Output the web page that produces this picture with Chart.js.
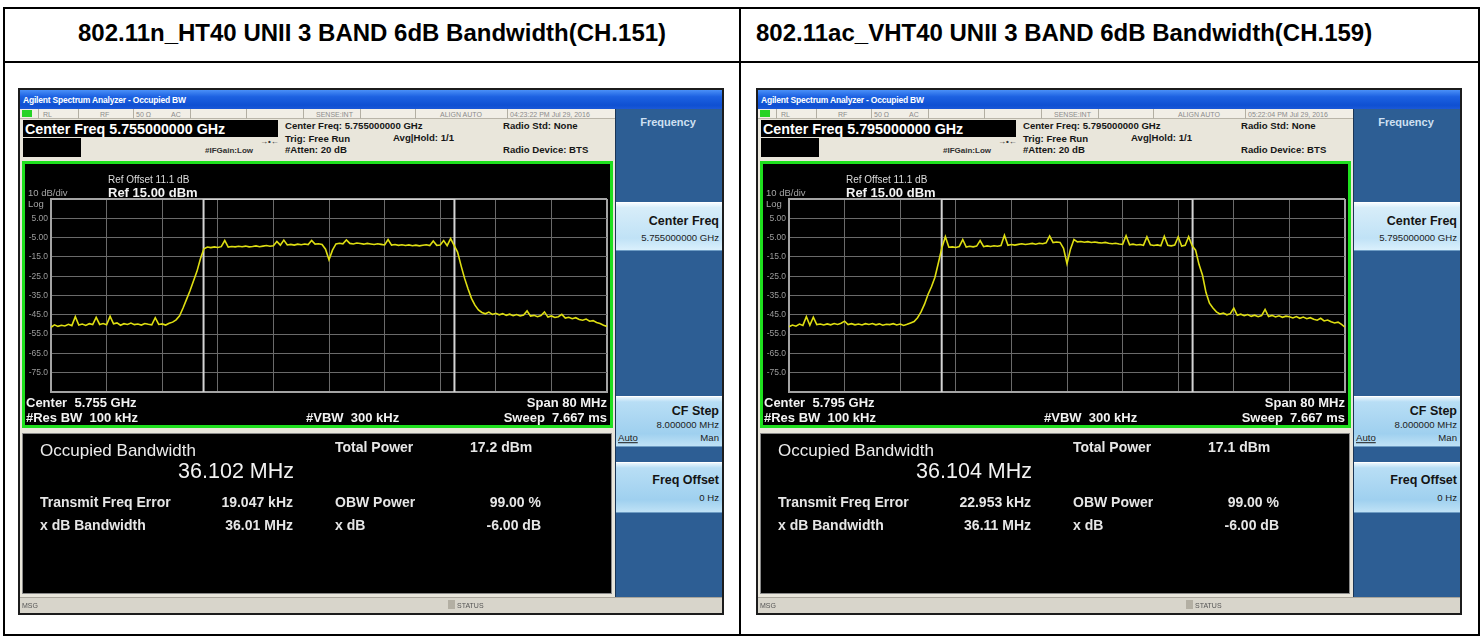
<!DOCTYPE html>
<html>
<head>
<meta charset="utf-8">
<script src="https://cdn.jsdelivr.net/npm/chart.js@4.4.1/dist/chart.umd.min.js"></script>
<style>
html, body { margin: 0; padding: 0; background: #fff; }
body { width: 1483px; height: 639px; position: relative; overflow: hidden; font-family: "Liberation Sans", Arial, sans-serif; }
.ln { position: absolute; background: #000; }
.hdr { position: absolute; top: 33px; transform: translateY(-50%); font-weight: bold; font-size: 24px; white-space: nowrap; color: #000; }
.panel { position: absolute; top: 0; width: 740px; height: 639px; }
.b { position: absolute; box-sizing: border-box; }
.t { position: absolute; white-space: pre; line-height: 1; }
.sa { background: #e9e6db; border: 2px solid #1c1c1c; }
.titlebar { background: linear-gradient(#4a90f8, #1d62e2 35%, #0f50d2 80%, #1a58d8); }
.ttl { color: #fff; font-size: 8.5px; font-weight: bold; letter-spacing: -0.2px; }
.strip { background: #f1eee6; border-bottom: 1px solid #b9b5a9; }
.div { background: #b3afa3; }
.st { color: #8c8c8c; font-size: 7px; }
.lxi { background: #26d326; }
.cfbox { background: #000; }
.cf { color: #fff; font-size: 14.3px; font-weight: bold; }
.inf { color: #161616; font-size: 9.6px; font-weight: bold; }
.ifg { color: #303030; font-size: 8px; font-weight: bold; }
.soft { background: #2d5e94; border-left: 1px solid #1a3555; }
.sk { background: linear-gradient(#f5fbff 0%, #d7edf9 10%, #c0e2f6 75%, #daf0fc 100%); border-top: 1px solid #fff; border-bottom: 1px solid #6d9cc4; }
.sk2 { background: linear-gradient(#eaf6fd 0%, #b8def5 10%, #9fd0ef 75%, #bfe2f6 100%); border-top: 1px solid #fff; border-bottom: 1px solid #6d9cc4; }
.skh { color: #141414; font-size: 12.5px; font-weight: bold; }
.skv { color: #1c1c1c; font-size: 9.6px; }
.freqhdr { color: #cfe0f2; font-size: 11px; font-weight: bold; }
.grat { background: #000; border: 3px solid #1ee01e; }
.gw { color: #f2f2f2; font-size: 13px; font-weight: bold; }
.gs { color: #a6a6a6; font-size: 9.5px; }
.ro { color: #dcdcdc; font-size: 10px; }
.rf { color: #f4f4f4; font-size: 13px; font-weight: bold; }
.res { background: #000; border: 1px solid #8a8a8a; }
.rl { color: #e6e6e6; font-size: 14px; font-weight: bold; }
.occ { color: #ececec; font-size: 17px; }
.big { color: #f2f2f2; font-size: 21.5px; }
.bar { background: #d8d5cb; border-top: 1px solid #a9a59b; }
.msg { color: #555; font-size: 7px; }
canvas { position: absolute; }
</style>
</head>
<body>
<script>
// sweep: 80 MHz span, 0.5 MHz between stored points
const sweepStartMHz = -40;
const sweepStepMHz = 0.5;
const refLevelDbm = 15;
const bottomDbm = -85;
const xGridStepMHz = 8;
const yTickValues = [5, -5, -15, -25, -35, -45, -55, -65, -75];
const yTickLabels = ['5.00', '-5.00', '-15.0', '-25.0', '-35.0', '-45.0', '-55.0', '-65.0', '-75.0'];

// trace level in dBm (rows of 5 MHz)
const traceHT40Ch151 = [
  -51.5, -50.2, -51.0, -50.4, -50.8, -49.9, -50.6, -46.0, -50.3, -49.8,
  -50.5, -49.6, -50.1, -46.3, -50.0, -49.5, -50.2, -45.8, -49.7, -49.2,
  -50.4, -49.6, -50.0, -49.3, -50.1, -49.8, -50.3, -49.5, -49.9, -50.2,
  -46.5, -50.0, -49.7, -50.3, -49.4, -48.8, -47.6, -45.5, -41.5, -37.0,
  -32.5, -27.5, -22.5, -16.0, -10.8, -9.9, -10.2, -9.8, -10.1, -9.7,
  -6.5, -9.9, -9.6, -9.8, -9.5, -9.7, -9.4, -9.8, -9.6, -9.3,
  -9.7, -9.4, -9.1, -9.5, -9.2, -7.0, -8.9, -6.3, -8.8, -8.5,
  -8.9, -8.4, -8.7, -8.3, -8.6, -6.5, -8.4, -8.2, -8.6, -11.0,
  -16.5, -11.5, -8.3, -7.9, -8.2, -6.2, -8.0, -8.3, -7.8, -8.1,
  -8.4, -8.0, -8.3, -8.6, -8.2, -8.5, -8.8, -6.0, -8.9, -8.6,
  -9.0, -8.7, -9.1, -8.8, -9.2, -8.9, -9.3, -9.0, -8.7, -9.1,
  -6.8, -9.0, -8.8, -6.5, -9.2, -5.5, -9.0, -12.5, -19.5, -26.0,
  -31.5, -36.5, -40.0, -42.5, -43.8, -44.5, -43.6, -44.8, -44.2, -45.0,
  -44.4, -45.3, -44.7, -45.5, -44.9, -45.6, -45.1, -43.0, -45.7, -45.3,
  -46.0, -45.4, -43.5, -46.2, -45.6, -46.4, -46.0, -44.8, -46.7, -46.3,
  -47.0, -46.5, -47.4, -47.8, -47.2, -48.3, -48.0, -49.0, -49.5, -50.4,
  -51.0
];
const traceVHT40Ch159 = [
  -51.2, -50.3, -50.9, -49.8, -50.5, -46.0, -50.4, -46.2, -50.1, -49.8,
  -50.3, -49.7, -50.2, -49.5, -50.0, -49.4, -48.3, -50.1, -49.6, -50.2,
  -49.8, -50.3, -49.6, -50.0, -49.5, -50.2, -49.7, -50.4, -49.9, -50.1,
  -49.6, -50.3, -49.8, -50.5, -49.9, -49.2, -48.5, -46.5, -43.5, -39.5,
  -34.5, -30.5, -25.5, -18.0, -10.2, -4.5, -10.0, -9.8, -10.1, -9.6,
  -6.0, -9.9, -9.5, -9.8, -9.4, -6.5, -9.7, -9.3, -9.6, -9.2,
  -9.5, -9.1, -3.8, -9.0, -8.6, -8.9, -8.5, -8.2, -8.6, -8.3,
  -8.0, -8.4, -7.9, -8.2, -7.7, -4.2, -7.6, -7.3, -7.5, -10.5,
  -18.5, -11.0, -6.0, -7.2, -7.0, -7.4, -7.1, -7.5, -7.3, -7.6,
  -7.8, -7.5, -7.9, -8.2, -7.9, -8.3, -8.5, -4.0, -8.7, -8.4,
  -8.8, -8.6, -9.0, -4.6, -8.7, -9.1, -8.8, -9.2, -4.3, -9.0,
  -9.3, -8.9, -4.6, -9.4, -9.0, -4.5, -9.2, -11.5, -19.0, -24.5,
  -33.5, -39.0, -41.5, -43.5, -44.6, -44.1, -45.0, -44.4, -41.5, -45.3,
  -44.7, -45.5, -44.9, -45.8, -45.2, -46.0, -45.4, -42.2, -45.9, -45.3,
  -46.1, -45.5, -46.3, -45.7, -46.0, -46.6, -45.9, -46.8, -46.2, -47.0,
  -46.5, -47.3, -47.8, -46.8, -48.2, -47.7, -48.6, -49.2, -48.8, -50.0,
  -51.4
];
const traces = [traceHT40Ch151, traceVHT40Ch159];
const obwEdgesMHz = [[-18.05, 18.05], [-18.03, 18.07]];

const headerTitles = ['802.11n_HT40 UNII 3 BAND 6dB Bandwidth(CH.151)', '802.11ac_VHT40 UNII 3 BAND 6dB Bandwidth(CH.159)'];
const centerFreqs = ['5.755000000 GHz', '5.795000000 GHz'];
const centerShort = ['5.755 GHz', '5.795 GHz'];
const timeStamps = ['04:23:22 PM Jul 29, 2016', '05:22:04 PM Jul 29, 2016'];
const occupiedBw = ['36.102 MHz', '36.104 MHz'];
const totalPowers = ['17.2 dBm', '17.1 dBm'];
const freqErrors = ['19.047 kHz', '22.953 kHz'];
const xdbBandwidths = ['36.01 MHz', '36.11 MHz'];
const panelOffsets = [0, 738];

function line(x, y, w, h) {
    const d = document.createElement('div');
    d.className = 'ln';
    Object.assign(d.style, { left: x + 'px', top: y + 'px', width: w + 'px', height: h + 'px' });
    document.body.appendChild(d);
}

// table frame
line(3, 7, 1477, 2);
line(3, 634, 1477, 2);
line(3, 7, 2, 629);
line(1478, 7, 2, 629);
line(3, 61, 1477, 2);
line(739, 7, 2, 629);

const h0 = document.createElement('div');
h0.className = 'hdr';
h0.textContent = headerTitles[0];
h0.style.left = '372px';
h0.style.transform = 'translate(-50%,-50%)';
document.body.appendChild(h0);
const h1 = document.createElement('div');
h1.className = 'hdr';
h1.textContent = headerTitles[1];
h1.style.left = '756px';
document.body.appendChild(h1);

function buildPanel(p) {
    const root = document.createElement('div');
    root.className = 'panel';
    root.style.left = panelOffsets[p] + 'px';
    document.body.appendChild(root);

    const box = (x, y, w, h, cls) => {
        const d = document.createElement('div');
        d.className = 'b ' + cls;
        Object.assign(d.style, { left: x + 'px', top: y + 'px', width: w + 'px', height: h + 'px' });
        root.appendChild(d);
        return d;
    };
    const put = (x, y, s, cls, align) => {
        const d = document.createElement('div');
        d.className = 't ' + cls;
        d.textContent = s;
        d.style.left = x + 'px';
        d.style.top = y + 'px';
        const tx = align === 'r' ? '-100%' : align === 'c' ? '-50%' : '0';
        d.style.transform = `translate(${tx},-50%)`;
        root.appendChild(d);
        return d;
    };

    box(18, 88, 706, 527, 'sa');
    box(20, 90, 702, 19, 'titlebar');
    put(23, 99.5, 'Agilent Spectrum Analyzer - Occupied BW', 'ttl');

    // status strip
    box(20, 109, 595, 10, 'strip');
    [38, 78, 133, 190, 246, 303, 360, 415, 507].forEach(x => box(x, 109, 1, 10, 'div'));
    box(22, 110, 10, 7, 'lxi');
    put(43, 114, 'RL', 'st');
    put(100, 114, 'RF', 'st');
    put(136, 114, '50 Ω', 'st');
    put(171, 114, 'AC', 'st');
    put(316, 114, 'SENSE:INT', 'st');
    put(440, 114, 'ALIGN AUTO', 'st');
    put(510, 114, timeStamps[p], 'st');

    // measurement info
    box(23, 120, 255, 17, 'cfbox');
    put(25, 128.5, 'Center Freq ' + centerFreqs[p], 'cf');
    box(23, 138, 58, 19, 'cfbox');
    put(260, 142, '→•←', 'ifg');
    put(205, 151, '#IFGain:Low', 'ifg');
    put(285, 126, 'Center Freq: ' + centerFreqs[p], 'inf');
    put(285, 139, 'Trig: Free Run', 'inf');
    put(285, 150, '#Atten: 20 dB', 'inf');
    put(393, 138, 'Avg|Hold: 1/1', 'inf');
    put(503, 126, 'Radio Std: None', 'inf');
    put(503, 150, 'Radio Device: BTS', 'inf');

    // softkeys
    box(615, 109, 107, 489, 'soft');
    put(668, 122, 'Frequency', 'freqhdr', 'c');
    box(616, 202, 106, 49, 'sk');
    put(719, 221, 'Center Freq', 'skh', 'r');
    put(719, 238, centerFreqs[p], 'skv', 'r');
    box(616, 396, 106, 51, 'sk2');
    put(719, 411, 'CF Step', 'skh', 'r');
    put(719, 425, '8.000000 MHz', 'skv', 'r');
    put(618, 438, 'Auto', 'skv').style.textDecoration = 'underline';
    put(719, 438, 'Man', 'skv', 'r');
    box(616, 462, 106, 51, 'sk2');
    put(719, 480, 'Freq Offset', 'skh', 'r');
    put(719, 498, '0 Hz', 'skv', 'r');

    // graticule window
    box(22, 161, 591, 267, 'grat');
    const cv = document.createElement('canvas');
    cv.width = 585;
    cv.height = 261;
    cv.style.left = '25px';
    cv.style.top = '164px';
    root.appendChild(cv);
    put(108, 180, 'Ref Offset 11.1 dB', 'ro');
    put(28, 193, '10 dB/div', 'gs');
    put(108, 192, 'Ref 15.00 dBm', 'rf');
    put(28, 204, 'Log', 'gs');
    put(26, 401.5, 'Center  ' + centerShort[p], 'gw');
    put(26, 416.5, '#Res BW  100 kHz', 'gw');
    put(306, 416.5, '#VBW  300 kHz', 'gw');
    put(607, 401.5, 'Span 80 MHz', 'gw', 'r');
    put(607, 416.5, 'Sweep  7.667 ms', 'gw', 'r');

    // results
    box(22, 433, 590, 161, 'res');
    put(40, 450, 'Occupied Bandwidth', 'occ');
    put(294, 472, occupiedBw[p], 'big', 'r');
    put(335, 447, 'Total Power', 'rl');
    put(470, 447, totalPowers[p], 'rl');
    put(40, 502, 'Transmit Freq Error', 'rl');
    put(293, 502, freqErrors[p], 'rl', 'r');
    put(335, 502, 'OBW Power', 'rl');
    put(541, 502, '99.00 %', 'rl', 'r');
    put(40, 525, 'x dB Bandwidth', 'rl');
    put(293, 525, xdbBandwidths[p], 'rl', 'r');
    put(335, 525, 'x dB', 'rl');
    put(541, 525, '-6.00 dB', 'rl', 'r');

    // bottom bar
    box(20, 597, 702, 16, 'bar');
    put(22, 605, 'MSG', 'msg');
    box(448, 600, 7, 9, 'div');
    put(457, 605, 'STATUS', 'msg');

    const pts = traces[p].map((v, i) => ({ x: sweepStartMHz + i * sweepStepMHz, y: v }));
    const e = obwEdgesMHz[p];
    const marker = [
        { x: e[0], y: bottomDbm }, { x: e[0], y: refLevelDbm },
        { x: e[1], y: refLevelDbm }, { x: e[1], y: bottomDbm }
    ];

    new Chart(cv.getContext('2d'), {
        type: 'line',
        data: {
            datasets: [
                { data: pts, borderColor: '#dede12', borderWidth: 1.6, pointRadius: 0, tension: 0 },
                { data: marker, borderColor: '#d4d4d4', borderWidth: 2, pointRadius: 0, tension: 0 }
            ]
        },
        options: {
            responsive: false,
            animation: false,
            events: [],
            layout: { padding: { left: 0, top: 35, right: 3, bottom: 33 } },
            plugins: { legend: { display: false }, tooltip: { enabled: false } },
            scales: {
                x: {
                    type: 'linear',
                    min: sweepStartMHz,
                    max: -sweepStartMHz,
                    ticks: { display: false, stepSize: xGridStepMHz },
                    grid: {
                        drawTicks: false,
                        color: c => Math.abs(c.tick.value) === 40 ? '#a4a4a4' : '#6a6a6a',
                        lineWidth: c => Math.abs(c.tick.value) === 40 ? 2 : 1
                    },
                    border: { color: '#a4a4a4', width: 2 },
                    afterFit(s) { s.height = 0; }
                },
                y: {
                    min: bottomDbm,
                    max: refLevelDbm,
                    ticks: {
                        stepSize: 10,
                        color: '#9c9c9c',
                        padding: 3,
                        font: { size: 8.5, family: 'Liberation Sans' },
                        callback: v => {
                            const i = yTickValues.indexOf(v);
                            return i < 0 ? '' : yTickLabels[i];
                        }
                    },
                    grid: {
                        drawTicks: false,
                        color: c => (c.tick.value === refLevelDbm || c.tick.value === bottomDbm) ? '#a4a4a4' : '#6a6a6a',
                        lineWidth: c => (c.tick.value === refLevelDbm || c.tick.value === bottomDbm) ? 2 : 1
                    },
                    border: { color: '#a4a4a4', width: 2 },
                    afterFit(s) { s.width = 26; }
                }
            }
        }
    });
}

buildPanel(0);
buildPanel(1);
</script>
</body>
</html>
